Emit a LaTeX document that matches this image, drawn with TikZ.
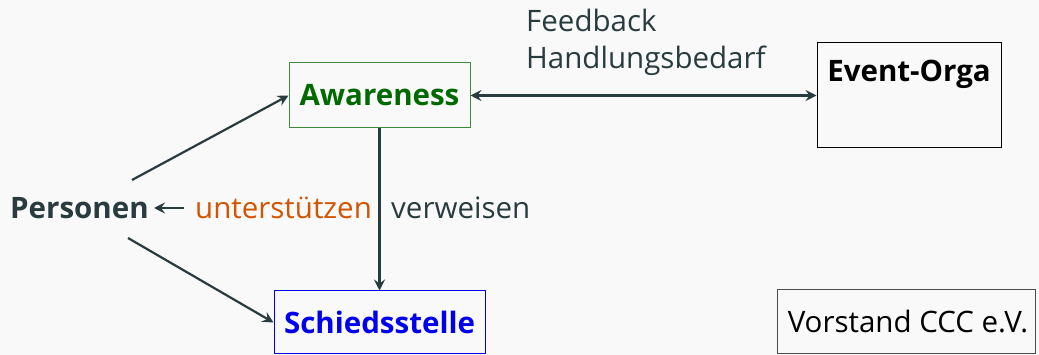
\documentclass[tikz,border=0pt]{standalone}
\usepackage{fontspec}
\setmainfont{Open Sans}
\usetikzlibrary{arrows.meta}
\definecolor{bg}{HTML}{F9F9F9}
\definecolor{ink}{HTML}{283C3F}
\definecolor{orangetxt}{HTML}{D35400}
\definecolor{greentxt}{HTML}{006A00}
\definecolor{greenbox}{HTML}{3C8C3C}
\definecolor{bluetxt}{HTML}{0000EE}
\tikzset{
  lbl/.style={font=\fontsize{29.5}{40}\selectfont, inner sep=0pt},
  lblb/.style={font=\fontsize{29.5}{40}\selectfont\bfseries, inner sep=0pt},
  boxed/.style={draw, line width=1pt, inner sep=0pt},
  conn/.style={draw=ink, line width=2.2pt, -{Stealth[length=11pt,width=11pt,inset=4pt]}},
}
\begin{document}
\begin{tikzpicture}[x=1pt,y=-1pt]
\fill[bg] (0,0) rectangle (1039,355);
\useasboundingbox (0,0) rectangle (1039,355);
% boxes
\node[boxed, draw=greenbox, minimum width=181pt, minimum height=65pt] (aw) at (379.5,95.5) {};
\node[lblb, text=greentxt] (awt) at (379.5,95.5) {Awareness};
\node[boxed, draw=bluetxt, minimum width=211pt, minimum height=63pt] (sch) at (379.5,322.5) {};
\node[lblb, text=bluetxt] (scht) at (379.5,322.5) {Schiedsstelle};
\node[boxed, draw=black, minimum width=184pt, minimum height=105pt] (eo) at (909,95.5) {};
\node[lblb, text=black] (eot) at (909,74) {Event-Orga};
\node[boxed, draw=black!70, minimum width=258pt, minimum height=64pt] (vs) at (906,322) {};
\node[lbl, text=black] (vst) at (908,322) {Vorstand CCC e.V.};
% texts
\node[lblb, text=ink, anchor=west] (pers) at (10,208) {Personen};
\node[lbl, text=orangetxt, anchor=west] (unt) at (195,208) {unterstützen};
\node[lbl, text=ink, anchor=west] (verw) at (391,208) {verweisen};
\node[lbl, text=ink, anchor=west] (fb) at (526,20) {Feedback};
\node[lbl, text=ink, anchor=west] (hb) at (526,61) {Handlungsbedarf};
% connectors
\coordinate (p1) at (132,180);
\coordinate (p2) at (128,238);
\coordinate (u0) at (184,208);
\draw[conn] (p1) -- (aw.west);
\draw[conn] (p2) -- (sch.west);
\draw[conn] (u0) -- (pers.east -| 154,0);
\draw[conn] (aw.south) -- (sch.north);
\draw[conn, {Stealth[length=11pt,width=11pt,inset=4pt]}-{Stealth[length=11pt,width=11pt,inset=4pt]}] (aw.east) -- (eo.west);
\end{tikzpicture}
\end{document}
